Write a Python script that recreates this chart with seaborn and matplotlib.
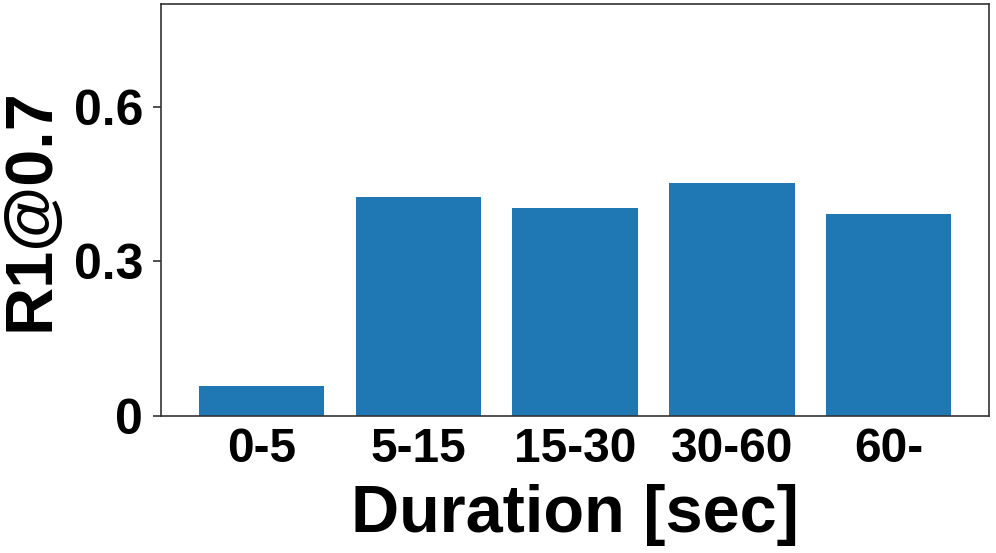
import pandas as pd
import seaborn as sns
import matplotlib.pyplot as plt

# R1@0.7 per duration bucket
durations = ['0-5', '5-15', '15-30', '30-60', '60-']
r1_scores = [0.058, 0.424, 0.403, 0.453, 0.391]
ytick_vals = [0, 0.3, 0.6]
ytick_labels = ['0', '0.3', '0.6']

df = pd.DataFrame({'Duration': durations, 'R1': r1_scores})

sns.set_style('ticks')
plt.rcParams['font.family'] = ['Liberation Sans', 'DejaVu Sans']
plt.rcParams['font.weight'] = 'bold'
plt.rcParams['text.color'] = 'black'
plt.rcParams['axes.labelcolor'] = 'black'
plt.rcParams['xtick.color'] = 'black'
plt.rcParams['ytick.color'] = 'black'

fig = plt.figure(figsize=(9.96, 5.53), dpi=100)
ax = fig.add_axes([0.1617, 0.2483, 0.8313, 0.7445])

sns.barplot(data=df, x='Duration', y='R1', color='#1f77b4', saturation=1,
            width=0.8, linewidth=0, ax=ax)

ax.set_xlim(-0.64, 4.64)
ax.set_ylim(0, 0.8)
ax.set_yticks(ytick_vals)
ax.set_yticklabels(ytick_labels)
ax.tick_params(axis='x', length=0, pad=8, labelsize=34.5, labelcolor='black')
ax.tick_params(axis='y', length=6, width=1.2, pad=7, labelsize=36,
               labelcolor='black', color='#333333')
for lab in ax.get_xticklabels() + ax.get_yticklabels():
    lab.set_fontweight('bold')

for s in ax.spines.values():
    s.set_visible(True)
    s.set_color('#333333')
    s.set_linewidth(1.2)

ax.set_xlabel('Duration [sec]', fontsize=48, fontweight='bold', labelpad=9,
              color='black')
ax.set_ylabel('R1@0.7', fontsize=48, fontweight='bold', labelpad=8,
              color='black')

fig.savefig('out.png', dpi=100)
